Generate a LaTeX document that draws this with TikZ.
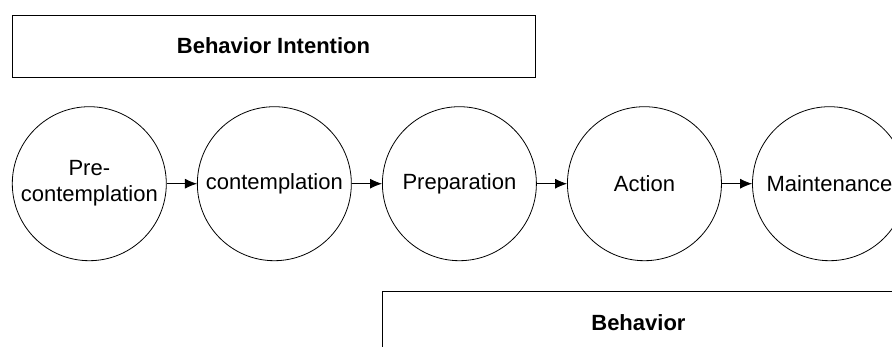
\documentclass[tikz,border=0pt]{standalone}
\usepackage{fontspec}
\setmainfont{Liberation Sans}
\usetikzlibrary{arrows.meta,positioning}
\begin{document}
\begin{tikzpicture}[x=1pt,y=-1pt,node distance=30.25pt,>={Latex[length=12pt,width=10pt]},
stage/.style={draw,circle,line width=0.8pt,minimum size=154pt,inner sep=0pt,align=center,font=\fontsize{22}{26}\selectfont},
band/.style={draw,line width=0.9pt,minimum width=523pt,minimum height=62pt,inner sep=0pt,font=\fontsize{22}{26}\selectfont\bfseries},arrow/.style={->,line width=0.8pt}]
\useasboundingbox (0,0) rectangle (892,346);
\node[band] (intent) at (273.5,46) {Behavior Intention};
\node[stage] (pre) at (89.3,183.7) {Pre-\\contemplation};
\node[stage,right=of pre] (cont) {contemplation};
\node[stage,right=of cont] (prep) {Preparation};
\node[stage,right=of prep] (act) {Action};
\node[stage,right=of act] (maint) {Maintenance};
\node[band,anchor=north west,minimum width=512pt] (behav) at (382,291) {Behavior};
\draw[arrow] (pre)--(cont); \draw[arrow] (cont)--(prep);
\draw[arrow] (prep)--(act); \draw[arrow] (act)--(maint);
\end{tikzpicture}
\end{document}
